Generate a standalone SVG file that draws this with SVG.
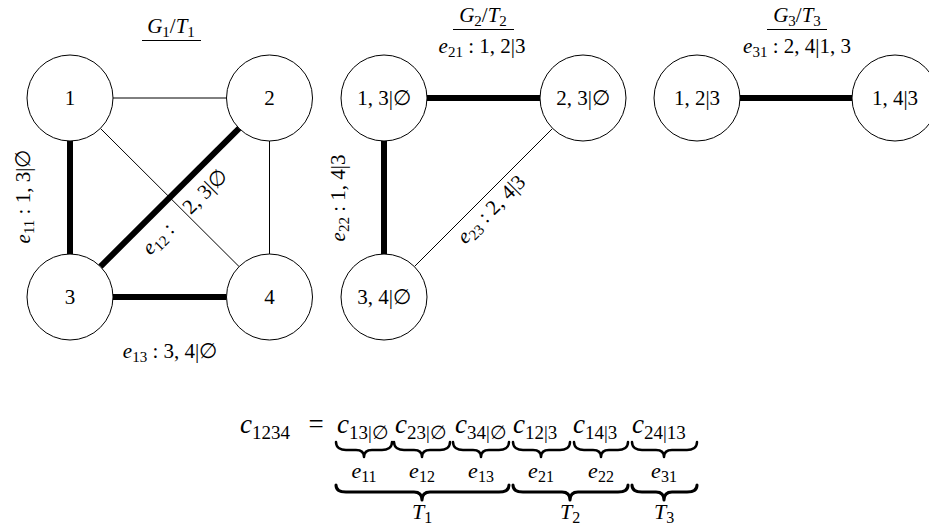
<svg xmlns="http://www.w3.org/2000/svg" width="929" height="529" viewBox="0 0 929 529" font-family="Liberation Serif, DejaVu Serif, serif">
<style>
text { font-family: 'Liberation Serif', 'DejaVu Serif', serif; font-size: 21px; fill: #000; }
.it { font-style: italic; }
.sb { font-size: 15px; }
.node circle { fill: #fff; stroke: #000; stroke-width: 1; }
.thin { stroke: #000; stroke-width: 1; fill: none; }
.thick { stroke: #000; stroke-width: 6; fill: none; }
.ul { stroke: #000; stroke-width: 1; }
.brace { fill: none; stroke: #000; stroke-width: 2.5; stroke-linecap: round; stroke-linejoin: round; }
.brace2 { fill: none; stroke: #000; stroke-width: 3; stroke-linecap: round; stroke-linejoin: round; }
.big { font-size: 27px; }
.bsb { font-size: 19px; }
.mid { font-size: 22px; }
.msb { font-size: 16px; }
</style>
<rect width="929" height="529" fill="#fff"/>

<g id="titles">
  <text x="171" y="33" text-anchor="middle"><tspan class="it">G</tspan><tspan class="sb" dy="4">1</tspan><tspan dy="-4">/</tspan><tspan class="it">T</tspan><tspan class="sb" dy="4">1</tspan></text>
  <line class="ul" x1="142" y1="40.5" x2="201" y2="40.5"/>
  <text x="483" y="22" text-anchor="middle"><tspan class="it">G</tspan><tspan class="sb" dy="4">2</tspan><tspan dy="-4">/</tspan><tspan class="it">T</tspan><tspan class="sb" dy="4">2</tspan></text>
  <line class="ul" x1="453" y1="29.5" x2="514" y2="29.5"/>
  <text x="797" y="22" text-anchor="middle"><tspan class="it">G</tspan><tspan class="sb" dy="4">3</tspan><tspan dy="-4">/</tspan><tspan class="it">T</tspan><tspan class="sb" dy="4">3</tspan></text>
  <line class="ul" x1="767" y1="29.5" x2="827" y2="29.5"/>
</g>

<g id="connectors">
  <line class="thin" x1="113" y1="98" x2="226.5" y2="98"/>
  <line class="thick" x1="70" y1="141" x2="70" y2="254"/>
  <line class="thin" x1="269.5" y1="141" x2="269.5" y2="254"/>
  <line class="thin" x1="100.4" y1="128.4" x2="239.1" y2="266.6"/>
  <line class="thick" x1="239.1" y1="128.4" x2="100.4" y2="266.6"/>
  <line class="thick" x1="113" y1="297" x2="226.5" y2="297"/>

  <line class="thick" x1="427" y1="98" x2="540" y2="98"/>
  <line class="thick" x1="384" y1="141" x2="384" y2="254"/>
  <line class="thin" x1="552.6" y1="128.4" x2="414.4" y2="266.6"/>

  <line class="thick" x1="740" y1="98" x2="852" y2="98"/>
</g>

<g id="edge-labels">
  <text transform="translate(30,196.5) rotate(-90)" text-anchor="middle"><tspan class="it">e</tspan><tspan class="sb" dy="4">11</tspan><tspan dy="-4"> : 1, 3|∅</tspan></text>
  <text transform="translate(189.5,216.5) rotate(-45)" text-anchor="middle"><tspan class="it">e</tspan><tspan class="sb" dy="4">12</tspan><tspan dy="-4"> :</tspan><tspan dx="22">2, 3|∅</tspan></text>
  <text x="170" y="358" text-anchor="middle"><tspan class="it">e</tspan><tspan class="sb" dy="4">13</tspan><tspan dy="-4"> : 3, 4|∅</tspan></text>
  <text x="482" y="53" text-anchor="middle"><tspan class="it">e</tspan><tspan class="sb" dy="4">21</tspan><tspan dy="-4"> : 1, 2|3</tspan></text>
  <text transform="translate(345,198) rotate(-90)" text-anchor="middle"><tspan class="it">e</tspan><tspan class="sb" dy="4">22</tspan><tspan dy="-4"> : 1, 4|3</tspan></text>
  <text transform="translate(496,214) rotate(-45)" text-anchor="middle"><tspan class="it">e</tspan><tspan class="sb" dy="4">23</tspan><tspan dy="-4"> : 2, 4|3</tspan></text>
  <text x="797" y="53" text-anchor="middle"><tspan class="it">e</tspan><tspan class="sb" dy="4">31</tspan><tspan dy="-4"> : 2, 4|1, 3</tspan></text>
</g>

<g id="n1" class="node"><circle cx="70" cy="98" r="43"/><text x="70" y="105" text-anchor="middle">1</text></g>
<g id="n2" class="node"><circle cx="269.5" cy="98" r="43"/><text x="269.5" y="105" text-anchor="middle">2</text></g>
<g id="n3" class="node"><circle cx="70" cy="297" r="43"/><text x="70" y="304" text-anchor="middle">3</text></g>
<g id="n4" class="node"><circle cx="269.5" cy="297" r="43"/><text x="269.5" y="304" text-anchor="middle">4</text></g>

<g id="n13" class="node"><circle cx="384" cy="98" r="43"/><text x="384" y="105" text-anchor="middle">1, 3|∅</text></g>
<g id="n23" class="node"><circle cx="583" cy="98" r="43"/><text x="583" y="105" text-anchor="middle">2, 3|∅</text></g>
<g id="n34" class="node"><circle cx="384" cy="297" r="43"/><text x="384" y="304" text-anchor="middle">3, 4|∅</text></g>

<g id="n12_3" class="node"><circle cx="697" cy="98" r="43"/><text x="697" y="105" text-anchor="middle">1, 2|3</text></g>
<g id="n14_3" class="node"><circle cx="895" cy="98" r="43"/><text x="895" y="105" text-anchor="middle">1, 4|3</text></g>

<g id="formula">
  <text x="240" y="433" class="big"><tspan class="it">c</tspan><tspan class="bsb" dy="6">1234</tspan></text>
  <text x="316" y="433" class="big" text-anchor="middle">=</text>
  <text x="337" y="433" class="big"><tspan class="it">c</tspan><tspan class="bsb" dy="6">13|∅</tspan></text>
  <text x="395" y="433" class="big"><tspan class="it">c</tspan><tspan class="bsb" dy="6">23|∅</tspan></text>
  <text x="455" y="433" class="big"><tspan class="it">c</tspan><tspan class="bsb" dy="6">34|∅</tspan></text>
  <text x="513" y="433" class="big"><tspan class="it">c</tspan><tspan class="bsb" dy="6">12|3</tspan></text>
  <text x="573" y="433" class="big"><tspan class="it">c</tspan><tspan class="bsb" dy="6">14|3</tspan></text>
  <text x="632" y="433" class="big"><tspan class="it">c</tspan><tspan class="bsb" dy="6">24|13</tspan></text>

  <path class="brace" d="M336,442 C336,448 341,450 346,450 L356,450 C361,450 364,452 364,457 C364,452 367,450 372,450 L382,450 C387,450 392,448 392,442"/>
  <path class="brace" d="M394,442 C394,448 399,450 404,450 L414,450 C419,450 422,452 422,457 C422,452 425,450 430,450 L440,450 C445,450 450,448 450,442"/>
  <path class="brace" d="M453,442 C453,448 458,450 463,450 L473,450 C478,450 481,452 481,457 C481,452 484,450 489,450 L499,450 C504,450 509,448 509,442"/>
  <path class="brace" d="M513,442 C513,448 518,450 523,450 L533,450 C538,450 541,452 541,457 C541,452 544,450 549,450 L560,450 C565,450 570,448 570,442"/>
  <path class="brace" d="M574,442 C574,448 579,450 584,450 L593,450 C598,450 601,452 601,457 C601,452 604,450 609,450 L618,450 C623,450 628,448 628,442"/>
  <path class="brace" d="M632,442 C632,448 637,450 642,450 L656,450 C661,450 664,452 664,457 C664,452 667,450 672,450 L687,450 C692,450 697,448 697,442"/>

  <text x="364" y="478" class="mid" text-anchor="middle"><tspan class="it">e</tspan><tspan class="msb" dy="4">11</tspan></text>
  <text x="422" y="478" class="mid" text-anchor="middle"><tspan class="it">e</tspan><tspan class="msb" dy="4">12</tspan></text>
  <text x="481" y="478" class="mid" text-anchor="middle"><tspan class="it">e</tspan><tspan class="msb" dy="4">13</tspan></text>
  <text x="541" y="478" class="mid" text-anchor="middle"><tspan class="it">e</tspan><tspan class="msb" dy="4">21</tspan></text>
  <text x="601" y="478" class="mid" text-anchor="middle"><tspan class="it">e</tspan><tspan class="msb" dy="4">22</tspan></text>
  <text x="664" y="478" class="mid" text-anchor="middle"><tspan class="it">e</tspan><tspan class="msb" dy="4">31</tspan></text>

  <path class="brace2" d="M336,485 C336,490 340,492 346,492 L414,492 C419,492 422,494 422,500 C422,494 425,492 430,492 L499,492 C505,492 509,490 509,485"/>
  <path class="brace2" d="M513,485 C513,490 517,492 523,492 L562,492 C567,492 570,494 570,500 C570,494 573,492 578,492 L618,492 C624,492 628,490 628,485"/>
  <path class="brace2" d="M632,485 C632,490 636,492 642,492 L656,492 C661,492 664,494 664,500 C664,494 667,492 672,492 L687,492 C693,492 697,490 697,485"/>

  <text x="422" y="519" class="mid" text-anchor="middle"><tspan class="it">T</tspan><tspan class="msb" dy="4">1</tspan></text>
  <text x="570" y="519" class="mid" text-anchor="middle"><tspan class="it">T</tspan><tspan class="msb" dy="4">2</tspan></text>
  <text x="664" y="519" class="mid" text-anchor="middle"><tspan class="it">T</tspan><tspan class="msb" dy="4">3</tspan></text>
</g>
</svg>
